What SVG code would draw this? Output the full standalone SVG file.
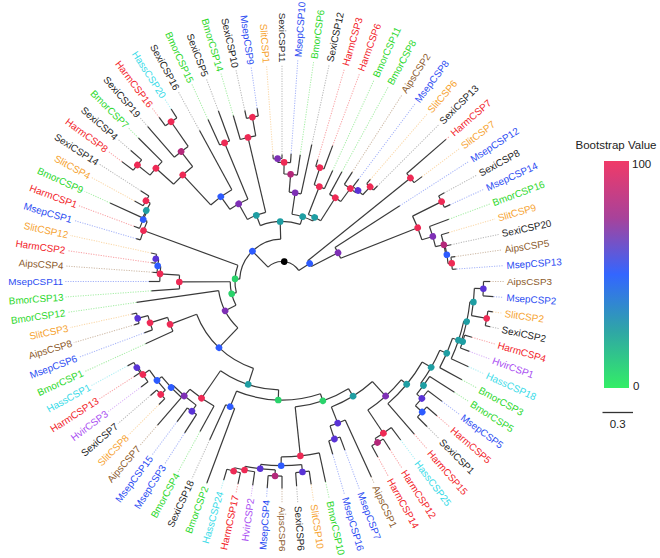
<svg xmlns="http://www.w3.org/2000/svg" width="660" height="558" viewBox="0 0 660 558">
<defs>
<style>
.br line,.br circle{stroke:#3a3a3a;stroke-width:1.2;fill:none}
.lf text{font-family:"Liberation Sans",Arial,sans-serif;font-size:9.9px;dominant-baseline:central}
.lf .e{text-anchor:end}
.lf line{stroke-width:1;stroke-dasharray:1.2 1.3;opacity:.42}
.sexi text{fill:#1e1e1e}.sexi line{stroke:#555}
.msep text{fill:#2b4cf2}.msep line{stroke:#2b4cf2}
.bmor text{fill:#2bd82b}.bmor line{stroke:#2bd82b}
.harm text{fill:#f2232a}.harm line{stroke:#f2232a}
.slit text{fill:#f6a331}.slit line{stroke:#f6a331}
.aips text{fill:#8b5a2b}.aips line{stroke:#8b5a2b}
.hass text{fill:#38dbe8}.hass line{stroke:#38dbe8}
.hvir text{fill:#a94df2}.hvir line{stroke:#a94df2}
.bs circle{r:3.3px}
.r{fill:#ee2a55}.m{fill:#b4287a}.p{fill:#7e2fb5}.v{fill:#5a33d6}.b{fill:#2d5bff}.tl{fill:#1f9ea3}.g{fill:#2ad36b}.k{fill:#000}
.lg{font-family:"Liberation Sans",Arial,sans-serif;font-size:11.5px;fill:#222}
</style>
<linearGradient id="grad" x1="0" y1="0" x2="0" y2="1">
<stop offset="0" stop-color="#f03a68"/>
<stop offset="0.25" stop-color="#a8429a"/>
<stop offset="0.5" stop-color="#3366ff"/>
<stop offset="0.75" stop-color="#2fa6a6"/>
<stop offset="1" stop-color="#33ee66"/>
</linearGradient>
</defs>
<g transform="translate(282 281.5)">
<g id="connectors" class="br">
<circle r="20" pathLength="360" stroke-dasharray="101.25 400" transform="rotate(-134.27)"/>
<line x1="20" x2="42.4" transform="rotate(-134.27)"/><circle r="42.4" pathLength="360" stroke-dasharray="85.03 400" transform="rotate(-176.785)"/>
<line x1="20" x2="33" transform="rotate(-33.02)"/><circle r="33" pathLength="360" stroke-dasharray="11.695 400" transform="rotate(-38.865)"/>
<line x1="33" x2="165" transform="rotate(-38.865)"/><circle r="165" pathLength="360" stroke-dasharray="4.09 400" transform="rotate(-40.91)"/>
<line x1="165" x2="217" transform="rotate(-40.91)"/><line x1="165" x2="175" transform="rotate(-36.82)"/>
<line x1="33" x2="63" transform="rotate(-27.17)"/><circle r="63" pathLength="360" stroke-dasharray="11.125 400" transform="rotate(-32.73)"/>
<line x1="63" x2="140" transform="rotate(-32.73)"/>
<line x1="63" x2="146" transform="rotate(-21.605)"/><circle r="146" pathLength="360" stroke-dasharray="9.98 400" transform="rotate(-26.595)"/>
<line x1="146" x2="178.5" transform="rotate(-26.595)"/><circle r="178.5" pathLength="360" stroke-dasharray="4.09 400" transform="rotate(-28.64)"/>
<line x1="178.5" x2="185" transform="rotate(-28.64)"/><line x1="178.5" x2="185" transform="rotate(-24.55)"/>
<line x1="146" x2="157.4" transform="rotate(-16.615)"/><circle r="157.4" pathLength="360" stroke-dasharray="7.67 400" transform="rotate(-20.45)"/>
<line x1="157.4" x2="178" transform="rotate(-20.45)"/>
<line x1="157.4" x2="166" transform="rotate(-12.78)"/><circle r="166" pathLength="360" stroke-dasharray="7.1575 400" transform="rotate(-16.36)"/>
<line x1="166" x2="174" transform="rotate(-16.36)"/>
<line x1="166" x2="167" transform="rotate(-9.2025)"/><circle r="167" pathLength="360" stroke-dasharray="6.135 400" transform="rotate(-12.27)"/>
<line x1="167" x2="173" transform="rotate(-12.27)"/>
<line x1="167" x2="170.7" transform="rotate(-6.135)"/><circle r="170.7" pathLength="360" stroke-dasharray="4.09 400" transform="rotate(-8.18)"/>
<line x1="170.7" x2="175" transform="rotate(-8.18)"/><line x1="170.7" x2="175" transform="rotate(-4.09)"/>
<line x1="42.4" x2="60" transform="rotate(-91.755)"/><circle r="60" pathLength="360" stroke-dasharray="38.93 400" transform="rotate(-111.22)"/>
<line x1="60" x2="71" transform="rotate(-111.22)"/><circle r="71" pathLength="360" stroke-dasharray="15.86 400" transform="rotate(-119.15)"/>
<line x1="71" x2="148" transform="rotate(-103.29)"/><circle r="148" pathLength="360" stroke-dasharray="6.135 400" transform="rotate(-106.36)"/>
<line x1="148" x2="173" transform="rotate(-106.36)"/>
<line x1="148" x2="167" transform="rotate(-100.225)"/><circle r="167" pathLength="360" stroke-dasharray="4.09 400" transform="rotate(-102.27)"/>
<line x1="167" x2="175" transform="rotate(-102.27)"/><line x1="167" x2="175" transform="rotate(-98.18)"/>
<line x1="71" x2="89" transform="rotate(-119.15)"/><circle r="89" pathLength="360" stroke-dasharray="13.3 400" transform="rotate(-125.8)"/>
<line x1="89" x2="150" transform="rotate(-112.5)"/><circle r="150" pathLength="360" stroke-dasharray="4.1 400" transform="rotate(-114.55)"/>
<line x1="150" x2="178" transform="rotate(-114.55)"/><line x1="150" x2="182" transform="rotate(-110.45)"/>
<line x1="89" x2="104.6" transform="rotate(-125.8)"/><circle r="104.6" pathLength="360" stroke-dasharray="14.315 400" transform="rotate(-132.955)"/>
<line x1="104.6" x2="172" transform="rotate(-118.64)"/>
<line x1="104.6" x2="145.6" transform="rotate(-132.955)"/><circle r="145.6" pathLength="360" stroke-dasharray="10.23 400" transform="rotate(-138.07)"/>
<line x1="145.6" x2="169.5" transform="rotate(-138.07)"/><circle r="169.5" pathLength="360" stroke-dasharray="6.135 400" transform="rotate(-141.135)"/>
<line x1="169.5" x2="203" transform="rotate(-135)"/>
<line x1="169.5" x2="185.7" transform="rotate(-141.135)"/><circle r="185.7" pathLength="360" stroke-dasharray="4.09 400" transform="rotate(-143.18)"/>
<line x1="185.7" x2="200" transform="rotate(-143.18)"/><line x1="185.7" x2="200" transform="rotate(-139.09)"/>
<line x1="145.6" x2="164.5" transform="rotate(-127.84)"/><circle r="164.5" pathLength="360" stroke-dasharray="6.135 400" transform="rotate(-130.91)"/>
<line x1="164.5" x2="205" transform="rotate(-130.91)"/>
<line x1="164.5" x2="194.5" transform="rotate(-124.775)"/><circle r="194.5" pathLength="360" stroke-dasharray="4.09 400" transform="rotate(-126.82)"/>
<line x1="194.5" x2="205" transform="rotate(-126.82)"/><line x1="194.5" x2="205" transform="rotate(-122.73)"/>
<line x1="60" x2="68" transform="rotate(-72.29)"/><circle r="68" pathLength="360" stroke-dasharray="18.545 400" transform="rotate(-81.565)"/>
<line x1="68" x2="89.7" transform="rotate(-81.565)"/><circle r="89.7" pathLength="360" stroke-dasharray="7.67 400" transform="rotate(-85.4)"/>
<line x1="89.7" x2="140" transform="rotate(-77.73)"/>
<line x1="89.7" x2="107.5" transform="rotate(-85.4)"/><circle r="107.5" pathLength="360" stroke-dasharray="7.16 400" transform="rotate(-88.98)"/>
<line x1="107.5" x2="128" transform="rotate(-81.82)"/>
<line x1="107.5" x2="119.2" transform="rotate(-88.98)"/><circle r="119.2" pathLength="360" stroke-dasharray="6.135 400" transform="rotate(-92.045)"/>
<line x1="119.2" x2="128" transform="rotate(-85.91)"/>
<line x1="119.2" x2="123" transform="rotate(-92.045)"/><circle r="123" pathLength="360" stroke-dasharray="4.09 400" transform="rotate(-94.09)"/>
<line x1="123" x2="127" transform="rotate(-94.09)"/><line x1="123" x2="127" transform="rotate(-90)"/>
<line x1="68" x2="72" transform="rotate(-63.02)"/><circle r="72" pathLength="360" stroke-dasharray="10.995 400" transform="rotate(-68.52)"/>
<line x1="72" x2="102" transform="rotate(-68.52)"/><circle r="102" pathLength="360" stroke-dasharray="6.145 400" transform="rotate(-71.595)"/>
<line x1="102" x2="122" transform="rotate(-65.45)"/>
<line x1="102" x2="120" transform="rotate(-71.595)"/><circle r="120" pathLength="360" stroke-dasharray="4.09 400" transform="rotate(-73.64)"/>
<line x1="120" x2="127" transform="rotate(-73.64)"/><line x1="120" x2="145" transform="rotate(-69.55)"/>
<line x1="72" x2="99.3" transform="rotate(-57.525)"/><circle r="99.3" pathLength="360" stroke-dasharray="7.67 400" transform="rotate(-61.36)"/>
<line x1="99.3" x2="125" transform="rotate(-61.36)"/>
<line x1="99.3" x2="115.4" transform="rotate(-53.69)"/><circle r="115.4" pathLength="360" stroke-dasharray="7.16 400" transform="rotate(-57.27)"/>
<line x1="115.4" x2="130" transform="rotate(-57.27)"/>
<line x1="115.4" x2="118.5" transform="rotate(-50.11)"/><circle r="118.5" pathLength="360" stroke-dasharray="6.135 400" transform="rotate(-53.18)"/>
<line x1="118.5" x2="128" transform="rotate(-53.18)"/>
<line x1="118.5" x2="129.4" transform="rotate(-47.045)"/><circle r="129.4" pathLength="360" stroke-dasharray="4.09 400" transform="rotate(-49.09)"/>
<line x1="129.4" x2="135" transform="rotate(-49.09)"/><line x1="129.4" x2="135" transform="rotate(-45)"/>
<line x1="42.4" x2="47" transform="rotate(183.215)"/><circle r="47" pathLength="360" stroke-dasharray="33.97 400" transform="rotate(166.23)"/>
<line x1="47" x2="147.6" transform="rotate(200.2)"/><circle r="147.6" pathLength="360" stroke-dasharray="7.67 400" transform="rotate(196.36)"/>
<line x1="147.6" x2="152" transform="rotate(196.36)"/>
<line x1="147.6" x2="152" transform="rotate(204.03)"/><circle r="152" pathLength="360" stroke-dasharray="7.17 400" transform="rotate(200.45)"/>
<line x1="152" x2="158" transform="rotate(200.45)"/>
<line x1="152" x2="153.2" transform="rotate(207.62)"/><circle r="153.2" pathLength="360" stroke-dasharray="6.135 400" transform="rotate(204.55)"/>
<line x1="153.2" x2="189" transform="rotate(204.55)"/>
<line x1="153.2" x2="158.2" transform="rotate(210.685)"/><circle r="158.2" pathLength="360" stroke-dasharray="4.09 400" transform="rotate(208.64)"/>
<line x1="158.2" x2="168" transform="rotate(208.64)"/><line x1="158.2" x2="168" transform="rotate(212.73)"/>
<line x1="47" x2="51.8" transform="rotate(166.23)"/><circle r="51.8" pathLength="360" stroke-dasharray="27.03 400" transform="rotate(152.715)"/>
<line x1="51.8" x2="102.7" transform="rotate(179.745)"/><circle r="102.7" pathLength="360" stroke-dasharray="7.67 400" transform="rotate(175.91)"/>
<line x1="102.7" x2="131" transform="rotate(175.91)"/>
<line x1="102.7" x2="122.2" transform="rotate(183.58)"/><circle r="122.2" pathLength="360" stroke-dasharray="7.16 400" transform="rotate(180)"/>
<line x1="122.2" x2="133" transform="rotate(180)"/>
<line x1="122.2" x2="125.3" transform="rotate(187.16)"/><circle r="125.3" pathLength="360" stroke-dasharray="6.135 400" transform="rotate(184.09)"/>
<line x1="125.3" x2="130" transform="rotate(184.09)"/>
<line x1="125.3" x2="128.3" transform="rotate(190.225)"/><circle r="128.3" pathLength="360" stroke-dasharray="4.09 400" transform="rotate(188.18)"/>
<line x1="128.3" x2="132" transform="rotate(188.18)"/><line x1="128.3" x2="134" transform="rotate(192.27)"/>
<line x1="51.8" x2="64" transform="rotate(152.715)"/><circle r="64" pathLength="360" stroke-dasharray="38.21 400" transform="rotate(133.61)"/>
<line x1="64" x2="147" transform="rotate(171.82)"/>
<line x1="64" x2="91.4" transform="rotate(133.61)"/><circle r="91.4" pathLength="360" stroke-dasharray="50.84 400" transform="rotate(108.19)"/>
<line x1="91.4" x2="119.9" transform="rotate(159.03)"/><circle r="119.9" pathLength="360" stroke-dasharray="7.17 400" transform="rotate(155.45)"/>
<line x1="119.9" x2="150" transform="rotate(155.45)"/>
<line x1="119.9" x2="138.3" transform="rotate(162.62)"/><circle r="138.3" pathLength="360" stroke-dasharray="6.135 400" transform="rotate(159.55)"/>
<line x1="138.3" x2="147" transform="rotate(159.55)"/>
<line x1="138.3" x2="148.9" transform="rotate(165.685)"/><circle r="148.9" pathLength="360" stroke-dasharray="4.09 400" transform="rotate(163.64)"/>
<line x1="148.9" x2="154" transform="rotate(163.64)"/><line x1="148.9" x2="154" transform="rotate(167.73)"/>
<line x1="91.4" x2="108.4" transform="rotate(108.19)"/><circle r="108.4" pathLength="360" stroke-dasharray="32.785 400" transform="rotate(91.8)"/>
<line x1="108.4" x2="141.8" transform="rotate(124.585)"/><circle r="141.8" pathLength="360" stroke-dasharray="11.89 400" transform="rotate(118.64)"/>
<line x1="141.8" x2="171" transform="rotate(118.64)"/>
<line x1="141.8" x2="150.5" transform="rotate(130.53)"/><circle r="150.5" pathLength="360" stroke-dasharray="11.505 400" transform="rotate(124.775)"/>
<line x1="150.5" x2="158" transform="rotate(124.775)"/><circle r="158" pathLength="360" stroke-dasharray="4.09 400" transform="rotate(122.73)"/>
<line x1="158" x2="180" transform="rotate(122.73)"/><line x1="158" x2="175" transform="rotate(126.82)"/>
<line x1="150.5" x2="153.4" transform="rotate(136.28)"/><circle r="153.4" pathLength="360" stroke-dasharray="10.74 400" transform="rotate(130.91)"/>
<line x1="153.4" x2="190" transform="rotate(130.91)"/>
<line x1="153.4" x2="159.4" transform="rotate(141.65)"/><circle r="159.4" pathLength="360" stroke-dasharray="9.205 400" transform="rotate(137.045)"/>
<line x1="159.4" x2="165.7" transform="rotate(137.045)"/><circle r="165.7" pathLength="360" stroke-dasharray="4.09 400" transform="rotate(135)"/>
<line x1="165.7" x2="174" transform="rotate(135)"/><line x1="165.7" x2="174" transform="rotate(139.09)"/>
<line x1="159.4" x2="167.4" transform="rotate(146.25)"/><circle r="167.4" pathLength="360" stroke-dasharray="6.135 400" transform="rotate(143.18)"/>
<line x1="167.4" x2="176" transform="rotate(143.18)"/>
<line x1="167.4" x2="168.8" transform="rotate(149.315)"/><circle r="168.8" pathLength="360" stroke-dasharray="4.09 400" transform="rotate(147.27)"/>
<line x1="168.8" x2="176" transform="rotate(147.27)"/><line x1="168.8" x2="176" transform="rotate(151.36)"/>
<line x1="108.4" x2="118.6" transform="rotate(91.8)"/><circle r="118.6" pathLength="360" stroke-dasharray="41.4 400" transform="rotate(71.1)"/>
<line x1="118.6" x2="135.5" transform="rotate(112.5)"/><circle r="135.5" pathLength="360" stroke-dasharray="4.1 400" transform="rotate(110.45)"/>
<line x1="135.5" x2="215" transform="rotate(110.45)"/><line x1="135.5" x2="174" transform="rotate(114.55)"/>
<line x1="118.6" x2="126.1" transform="rotate(71.1)"/><circle r="126.1" pathLength="360" stroke-dasharray="25.795 400" transform="rotate(58.2)"/>
<line x1="126.1" x2="175.4" transform="rotate(83.995)"/><circle r="175.4" pathLength="360" stroke-dasharray="12.53 400" transform="rotate(77.73)"/>
<line x1="175.4" x2="205" transform="rotate(77.73)"/>
<line x1="175.4" x2="184.2" transform="rotate(90.26)"/><circle r="184.2" pathLength="360" stroke-dasharray="12.785 400" transform="rotate(83.865)"/>
<line x1="184.2" x2="191.6" transform="rotate(83.865)"/><circle r="191.6" pathLength="360" stroke-dasharray="4.09 400" transform="rotate(81.82)"/>
<line x1="191.6" x2="205" transform="rotate(81.82)"/><line x1="191.6" x2="205" transform="rotate(85.91)"/>
<line x1="184.2" x2="188.5" transform="rotate(96.65)"/><circle r="188.5" pathLength="360" stroke-dasharray="9.205 400" transform="rotate(92.045)"/>
<line x1="188.5" x2="194.6" transform="rotate(92.045)"/><circle r="194.6" pathLength="360" stroke-dasharray="4.09 400" transform="rotate(90)"/>
<line x1="194.6" x2="207" transform="rotate(90)"/><line x1="194.6" x2="207" transform="rotate(94.09)"/>
<line x1="188.5" x2="192.2" transform="rotate(101.25)"/><circle r="192.2" pathLength="360" stroke-dasharray="6.135 400" transform="rotate(98.18)"/>
<line x1="192.2" x2="206" transform="rotate(98.18)"/>
<line x1="192.2" x2="195.7" transform="rotate(104.315)"/><circle r="195.7" pathLength="360" stroke-dasharray="4.09 400" transform="rotate(102.27)"/>
<line x1="195.7" x2="207" transform="rotate(102.27)"/><line x1="195.7" x2="207" transform="rotate(106.36)"/>
<line x1="126.1" x2="134.9" transform="rotate(58.2)"/><circle r="134.9" pathLength="360" stroke-dasharray="20.64 400" transform="rotate(47.88)"/>
<line x1="134.9" x2="152.2" transform="rotate(68.52)"/><circle r="152.2" pathLength="360" stroke-dasharray="6.145 400" transform="rotate(65.45)"/>
<line x1="152.2" x2="215" transform="rotate(65.45)"/>
<line x1="152.2" x2="166" transform="rotate(71.595)"/><circle r="166" pathLength="360" stroke-dasharray="4.09 400" transform="rotate(69.55)"/>
<line x1="166" x2="180" transform="rotate(69.55)"/><line x1="166" x2="180" transform="rotate(73.64)"/>
<line x1="134.9" x2="154.5" transform="rotate(47.88)"/><circle r="154.5" pathLength="360" stroke-dasharray="16.745 400" transform="rotate(39.505)"/>
<line x1="154.5" x2="182.5" transform="rotate(56.25)"/><circle r="182.5" pathLength="360" stroke-dasharray="6.135 400" transform="rotate(53.18)"/>
<line x1="182.5" x2="198" transform="rotate(53.18)"/>
<line x1="182.5" x2="187.2" transform="rotate(59.315)"/><circle r="187.2" pathLength="360" stroke-dasharray="4.09 400" transform="rotate(57.27)"/>
<line x1="187.2" x2="200" transform="rotate(57.27)"/><line x1="187.2" x2="200" transform="rotate(61.36)"/>
<line x1="154.5" x2="161.6" transform="rotate(39.505)"/><circle r="161.6" pathLength="360" stroke-dasharray="19.17 400" transform="rotate(29.92)"/>
<line x1="161.6" x2="202" transform="rotate(49.09)"/>
<line x1="161.6" x2="172.1" transform="rotate(29.92)"/><circle r="172.1" pathLength="360" stroke-dasharray="12.785 400" transform="rotate(23.525)"/>
<line x1="172.1" x2="175.6" transform="rotate(36.31)"/><circle r="175.6" pathLength="360" stroke-dasharray="7.16 400" transform="rotate(32.73)"/>
<line x1="175.6" x2="205" transform="rotate(32.73)"/>
<line x1="175.6" x2="182.3" transform="rotate(39.89)"/><circle r="182.3" pathLength="360" stroke-dasharray="6.135 400" transform="rotate(36.82)"/>
<line x1="182.3" x2="200" transform="rotate(36.82)"/>
<line x1="182.3" x2="191.6" transform="rotate(42.955)"/><circle r="191.6" pathLength="360" stroke-dasharray="4.09 400" transform="rotate(40.91)"/>
<line x1="191.6" x2="205" transform="rotate(40.91)"/><line x1="191.6" x2="205" transform="rotate(45)"/>
<line x1="172.1" x2="179.7" transform="rotate(23.525)"/><circle r="179.7" pathLength="360" stroke-dasharray="10.23 400" transform="rotate(18.41)"/>
<line x1="179.7" x2="205" transform="rotate(28.64)"/>
<line x1="179.7" x2="186" transform="rotate(18.41)"/><circle r="186" pathLength="360" stroke-dasharray="12.28 400" transform="rotate(12.27)"/>
<line x1="186" x2="205" transform="rotate(24.55)"/>
<line x1="186" x2="189" transform="rotate(12.27)"/><circle r="189" pathLength="360" stroke-dasharray="12.27 400" transform="rotate(6.135)"/>
<line x1="189" x2="192.5" transform="rotate(6.135)"/><circle r="192.5" pathLength="360" stroke-dasharray="8.18 400" transform="rotate(2.045)"/>
<line x1="192.5" x2="201.5" transform="rotate(2.045)"/><circle r="201.5" pathLength="360" stroke-dasharray="4.09 400" transform="rotate(0)"/>
<line x1="201.5" x2="208" transform="rotate(0)"/><line x1="201.5" x2="212" transform="rotate(4.09)"/>
<line x1="192.5" x2="208" transform="rotate(10.225)"/><circle r="208" pathLength="360" stroke-dasharray="4.09 400" transform="rotate(8.18)"/>
<line x1="208" x2="213" transform="rotate(8.18)"/><line x1="208" x2="213" transform="rotate(12.27)"/>
<line x1="189" x2="190.4" transform="rotate(18.405)"/><circle r="190.4" pathLength="360" stroke-dasharray="4.09 400" transform="rotate(16.36)"/>
<line x1="190.4" x2="198" transform="rotate(16.36)"/><line x1="190.4" x2="200" transform="rotate(20.45)"/>
</g>
<g id="leaves" class="lf">
<g id="SexiCSP11" class="sexi"><line x1="127" x2="217" transform="rotate(-90)"/><text class="e" transform="rotate(-90) translate(219 0) rotate(180)">SexiCSP11</text></g>
<g id="MsepCSP10" class="msep"><line x1="128" x2="222" transform="rotate(-85.91)"/><text transform="rotate(-85.91) translate(225 0)">MsepCSP10</text></g>
<g id="BmorCSP6" class="bmor"><line x1="128" x2="222" transform="rotate(-81.82)"/><text transform="rotate(-81.82) translate(225 0)">BmorCSP6</text></g>
<g id="SexiCSP12" class="sexi"><line x1="140" x2="222" transform="rotate(-77.73)"/><text transform="rotate(-77.73) translate(225 0)">SexiCSP12</text></g>
<g id="HarmCSP3" class="harm"><line x1="127" x2="222" transform="rotate(-73.64)"/><text transform="rotate(-73.64) translate(225 0)">HarmCSP3</text></g>
<g id="HarmCSP6" class="harm"><line x1="145" x2="222" transform="rotate(-69.55)"/><text transform="rotate(-69.55) translate(225 0)">HarmCSP6</text></g>
<g id="BmorCSP11" class="bmor"><line x1="122" x2="222" transform="rotate(-65.45)"/><text transform="rotate(-65.45) translate(225 0)">BmorCSP11</text></g>
<g id="BmorCSP8" class="bmor"><line x1="125" x2="222" transform="rotate(-61.36)"/><text transform="rotate(-61.36) translate(225 0)">BmorCSP8</text></g>
<g id="AipsCSP2" class="aips"><line x1="130" x2="222" transform="rotate(-57.27)"/><text transform="rotate(-57.27) translate(225 0)">AipsCSP2</text></g>
<g id="MsepCSP8" class="msep"><line x1="128" x2="222" transform="rotate(-53.18)"/><text transform="rotate(-53.18) translate(225 0)">MsepCSP8</text></g>
<g id="SlitCSP6" class="slit"><line x1="135" x2="222" transform="rotate(-49.09)"/><text transform="rotate(-49.09) translate(225 0)">SlitCSP6</text></g>
<g id="SexiCSP13" class="sexi"><line x1="135" x2="222" transform="rotate(-45)"/><text transform="rotate(-45) translate(225 0)">SexiCSP13</text></g>
<g id="HarmCSP7" class="harm"><line x1="217" x2="222" transform="rotate(-40.91)"/><text transform="rotate(-40.91) translate(225 0)">HarmCSP7</text></g>
<g id="SlitCSP7" class="slit"><line x1="175" x2="222" transform="rotate(-36.82)"/><text transform="rotate(-36.82) translate(225 0)">SlitCSP7</text></g>
<g id="MsepCSP12" class="msep"><line x1="140" x2="222" transform="rotate(-32.73)"/><text transform="rotate(-32.73) translate(225 0)">MsepCSP12</text></g>
<g id="SexiCSP8" class="sexi"><line x1="185" x2="222" transform="rotate(-28.64)"/><text transform="rotate(-28.64) translate(225 0)">SexiCSP8</text></g>
<g id="MsepCSP14" class="msep"><line x1="185" x2="222" transform="rotate(-24.55)"/><text transform="rotate(-24.55) translate(225 0)">MsepCSP14</text></g>
<g id="BmorCSP16" class="bmor"><line x1="178" x2="222" transform="rotate(-20.45)"/><text transform="rotate(-20.45) translate(225 0)">BmorCSP16</text></g>
<g id="SlitCSP9" class="slit"><line x1="174" x2="222" transform="rotate(-16.36)"/><text transform="rotate(-16.36) translate(225 0)">SlitCSP9</text></g>
<g id="SexiCSP20" class="sexi"><line x1="173" x2="222" transform="rotate(-12.27)"/><text transform="rotate(-12.27) translate(225 0)">SexiCSP20</text></g>
<g id="AipsCSP5" class="aips"><line x1="175" x2="222" transform="rotate(-8.18)"/><text transform="rotate(-8.18) translate(225 0)">AipsCSP5</text></g>
<g id="MsepCSP13" class="msep"><line x1="175" x2="222" transform="rotate(-4.09)"/><text transform="rotate(-4.09) translate(225 0)">MsepCSP13</text></g>
<g id="AipsCSP3" class="aips"><line x1="208" x2="222" transform="rotate(0)"/><text transform="rotate(0) translate(225 0)">AipsCSP3</text></g>
<g id="MsepCSP2" class="msep"><line x1="212" x2="222" transform="rotate(4.09)"/><text transform="rotate(4.09) translate(225 0)">MsepCSP2</text></g>
<g id="SlitCSP2" class="slit"><line x1="213" x2="222" transform="rotate(8.18)"/><text transform="rotate(8.18) translate(225 0)">SlitCSP2</text></g>
<g id="SexiCSP2" class="sexi"><line x1="213" x2="222" transform="rotate(12.27)"/><text transform="rotate(12.27) translate(225 0)">SexiCSP2</text></g>
<g id="HarmCSP4" class="harm"><line x1="198" x2="222" transform="rotate(16.36)"/><text transform="rotate(16.36) translate(225 0)">HarmCSP4</text></g>
<g id="HvirCSP1" class="hvir"><line x1="200" x2="222" transform="rotate(20.45)"/><text transform="rotate(20.45) translate(225 0)">HvirCSP1</text></g>
<g id="HassCSP18" class="hass"><line x1="205" x2="222" transform="rotate(24.55)"/><text transform="rotate(24.55) translate(225 0)">HassCSP18</text></g>
<g id="BmorCSP3" class="bmor"><line x1="205" x2="222" transform="rotate(28.64)"/><text transform="rotate(28.64) translate(225 0)">BmorCSP3</text></g>
<g id="BmorCSP5" class="bmor"><line x1="205" x2="222" transform="rotate(32.73)"/><text transform="rotate(32.73) translate(225 0)">BmorCSP5</text></g>
<g id="MsepCSP5" class="msep"><line x1="200" x2="222" transform="rotate(36.82)"/><text transform="rotate(36.82) translate(225 0)">MsepCSP5</text></g>
<g id="HarmCSP5" class="harm"><line x1="205" x2="222" transform="rotate(40.91)"/><text transform="rotate(40.91) translate(225 0)">HarmCSP5</text></g>
<g id="SexiCSP1" class="sexi"><line x1="205" x2="222" transform="rotate(45)"/><text transform="rotate(45) translate(225 0)">SexiCSP1</text></g>
<g id="HarmCSP15" class="harm"><line x1="202" x2="222" transform="rotate(49.09)"/><text transform="rotate(49.09) translate(225 0)">HarmCSP15</text></g>
<g id="HassCSP25" class="hass"><line x1="198" x2="222" transform="rotate(53.18)"/><text transform="rotate(53.18) translate(225 0)">HassCSP25</text></g>
<g id="HarmCSP12" class="harm"><line x1="200" x2="222" transform="rotate(57.27)"/><text transform="rotate(57.27) translate(225 0)">HarmCSP12</text></g>
<g id="HarmCSP14" class="harm"><line x1="200" x2="222" transform="rotate(61.36)"/><text transform="rotate(61.36) translate(225 0)">HarmCSP14</text></g>
<g id="AipsCSP1" class="aips"><line x1="215" x2="222" transform="rotate(65.45)"/><text transform="rotate(65.45) translate(225 0)">AipsCSP1</text></g>
<g id="MsepCSP7" class="msep"><line x1="180" x2="222" transform="rotate(69.55)"/><text transform="rotate(69.55) translate(225 0)">MsepCSP7</text></g>
<g id="MsepCSP16" class="msep"><line x1="180" x2="222" transform="rotate(73.64)"/><text transform="rotate(73.64) translate(225 0)">MsepCSP16</text></g>
<g id="BmorCSP10" class="bmor"><line x1="205" x2="222" transform="rotate(77.73)"/><text transform="rotate(77.73) translate(225 0)">BmorCSP10</text></g>
<g id="SlitCSP10" class="slit"><line x1="205" x2="222" transform="rotate(81.82)"/><text transform="rotate(81.82) translate(225 0)">SlitCSP10</text></g>
<g id="SexiCSP6" class="sexi"><line x1="205" x2="222" transform="rotate(85.91)"/><text transform="rotate(85.91) translate(225 0)">SexiCSP6</text></g>
<g id="AipsCSP6" class="aips"><line x1="207" x2="222" transform="rotate(90)"/><text transform="rotate(90) translate(225 0)">AipsCSP6</text></g>
<g id="MsepCSP4" class="msep"><line x1="207" x2="217" transform="rotate(94.09)"/><text class="e" transform="rotate(94.09) translate(219 0) rotate(180)">MsepCSP4</text></g>
<g id="HvirCSP2" class="hvir"><line x1="206" x2="217" transform="rotate(98.18)"/><text class="e" transform="rotate(98.18) translate(219 0) rotate(180)">HvirCSP2</text></g>
<g id="HarmCSP17" class="harm"><line x1="207" x2="217" transform="rotate(102.27)"/><text class="e" transform="rotate(102.27) translate(219 0) rotate(180)">HarmCSP17</text></g>
<g id="HassCSP24" class="hass"><line x1="207" x2="217" transform="rotate(106.36)"/><text class="e" transform="rotate(106.36) translate(219 0) rotate(180)">HassCSP24</text></g>
<g id="BmorCSP2" class="bmor"><line x1="215" x2="217" transform="rotate(110.45)"/><text class="e" transform="rotate(110.45) translate(219 0) rotate(180)">BmorCSP2</text></g>
<g id="SexiCSP18" class="sexi"><line x1="174" x2="217" transform="rotate(114.55)"/><text class="e" transform="rotate(114.55) translate(219 0) rotate(180)">SexiCSP18</text></g>
<g id="BmorCSP4" class="bmor"><line x1="171" x2="217" transform="rotate(118.64)"/><text class="e" transform="rotate(118.64) translate(219 0) rotate(180)">BmorCSP4</text></g>
<g id="MsepCSP3" class="msep"><line x1="180" x2="217" transform="rotate(122.73)"/><text class="e" transform="rotate(122.73) translate(219 0) rotate(180)">MsepCSP3</text></g>
<g id="MsepCSP15" class="msep"><line x1="175" x2="217" transform="rotate(126.82)"/><text class="e" transform="rotate(126.82) translate(219 0) rotate(180)">MsepCSP15</text></g>
<g id="AipsCSP7" class="aips"><line x1="190" x2="217" transform="rotate(130.91)"/><text class="e" transform="rotate(130.91) translate(219 0) rotate(180)">AipsCSP7</text></g>
<g id="SlitCSP8" class="slit"><line x1="174" x2="217" transform="rotate(135)"/><text class="e" transform="rotate(135) translate(219 0) rotate(180)">SlitCSP8</text></g>
<g id="SexiCSP7" class="sexi"><line x1="174" x2="217" transform="rotate(139.09)"/><text class="e" transform="rotate(139.09) translate(219 0) rotate(180)">SexiCSP7</text></g>
<g id="HvirCSP3" class="hvir"><line x1="176" x2="217" transform="rotate(143.18)"/><text class="e" transform="rotate(143.18) translate(219 0) rotate(180)">HvirCSP3</text></g>
<g id="HarmCSP13" class="harm"><line x1="176" x2="217" transform="rotate(147.27)"/><text class="e" transform="rotate(147.27) translate(219 0) rotate(180)">HarmCSP13</text></g>
<g id="HassCSP1" class="hass"><line x1="176" x2="217" transform="rotate(151.36)"/><text class="e" transform="rotate(151.36) translate(219 0) rotate(180)">HassCSP1</text></g>
<g id="BmorCSP1" class="bmor"><line x1="150" x2="217" transform="rotate(155.45)"/><text class="e" transform="rotate(155.45) translate(219 0) rotate(180)">BmorCSP1</text></g>
<g id="MsepCSP6" class="msep"><line x1="147" x2="217" transform="rotate(159.55)"/><text class="e" transform="rotate(159.55) translate(219 0) rotate(180)">MsepCSP6</text></g>
<g id="AipsCSP8" class="aips"><line x1="154" x2="217" transform="rotate(163.64)"/><text class="e" transform="rotate(163.64) translate(219 0) rotate(180)">AipsCSP8</text></g>
<g id="SlitCSP3" class="slit"><line x1="154" x2="217" transform="rotate(167.73)"/><text class="e" transform="rotate(167.73) translate(219 0) rotate(180)">SlitCSP3</text></g>
<g id="BmorCSP12" class="bmor"><line x1="147" x2="217" transform="rotate(171.82)"/><text class="e" transform="rotate(171.82) translate(219 0) rotate(180)">BmorCSP12</text></g>
<g id="BmorCSP13" class="bmor"><line x1="131" x2="217" transform="rotate(175.91)"/><text class="e" transform="rotate(175.91) translate(219 0) rotate(180)">BmorCSP13</text></g>
<g id="MsepCSP11" class="msep"><line x1="133" x2="217" transform="rotate(180)"/><text class="e" transform="rotate(180) translate(219 0) rotate(180)">MsepCSP11</text></g>
<g id="AipsCSP4" class="aips"><line x1="130" x2="217" transform="rotate(184.09)"/><text class="e" transform="rotate(184.09) translate(219 0) rotate(180)">AipsCSP4</text></g>
<g id="HarmCSP2" class="harm"><line x1="132" x2="217" transform="rotate(188.18)"/><text class="e" transform="rotate(188.18) translate(219 0) rotate(180)">HarmCSP2</text></g>
<g id="SlitCSP12" class="slit"><line x1="134" x2="217" transform="rotate(192.27)"/><text class="e" transform="rotate(192.27) translate(219 0) rotate(180)">SlitCSP12</text></g>
<g id="MsepCSP1" class="msep"><line x1="152" x2="217" transform="rotate(196.36)"/><text class="e" transform="rotate(196.36) translate(219 0) rotate(180)">MsepCSP1</text></g>
<g id="HarmCSP1" class="harm"><line x1="158" x2="217" transform="rotate(200.45)"/><text class="e" transform="rotate(200.45) translate(219 0) rotate(180)">HarmCSP1</text></g>
<g id="BmorCSP9" class="bmor"><line x1="189" x2="217" transform="rotate(204.55)"/><text class="e" transform="rotate(204.55) translate(219 0) rotate(180)">BmorCSP9</text></g>
<g id="SlitCSP4" class="slit"><line x1="168" x2="217" transform="rotate(208.64)"/><text class="e" transform="rotate(208.64) translate(219 0) rotate(180)">SlitCSP4</text></g>
<g id="SexiCSP14" class="sexi"><line x1="168" x2="217" transform="rotate(212.73)"/><text class="e" transform="rotate(212.73) translate(219 0) rotate(180)">SexiCSP14</text></g>
<g id="HarmCSP8" class="harm"><line x1="200" x2="217" transform="rotate(216.82)"/><text class="e" transform="rotate(216.82) translate(219 0) rotate(180)">HarmCSP8</text></g>
<g id="SexiCSP4" class="sexi"><line x1="200" x2="217" transform="rotate(220.91)"/><text class="e" transform="rotate(220.91) translate(219 0) rotate(180)">SexiCSP4</text></g>
<g id="BmorCSP7" class="bmor"><line x1="203" x2="217" transform="rotate(225)"/><text class="e" transform="rotate(225) translate(219 0) rotate(180)">BmorCSP7</text></g>
<g id="SexiCSP19" class="sexi"><line x1="205" x2="217" transform="rotate(229.09)"/><text class="e" transform="rotate(229.09) translate(219 0) rotate(180)">SexiCSP19</text></g>
<g id="HarmCSP16" class="harm"><line x1="205" x2="217" transform="rotate(233.18)"/><text class="e" transform="rotate(233.18) translate(219 0) rotate(180)">HarmCSP16</text></g>
<g id="HassCSP20" class="hass"><line x1="205" x2="217" transform="rotate(237.27)"/><text class="e" transform="rotate(237.27) translate(219 0) rotate(180)">HassCSP20</text></g>
<g id="SexiCSP16" class="sexi"><line x1="172" x2="217" transform="rotate(241.36)"/><text class="e" transform="rotate(241.36) translate(219 0) rotate(180)">SexiCSP16</text></g>
<g id="BmorCSP15" class="bmor"><line x1="178" x2="217" transform="rotate(245.45)"/><text class="e" transform="rotate(245.45) translate(219 0) rotate(180)">BmorCSP15</text></g>
<g id="SexiCSP5" class="sexi"><line x1="182" x2="217" transform="rotate(249.55)"/><text class="e" transform="rotate(249.55) translate(219 0) rotate(180)">SexiCSP5</text></g>
<g id="BmorCSP14" class="bmor"><line x1="173" x2="217" transform="rotate(253.64)"/><text class="e" transform="rotate(253.64) translate(219 0) rotate(180)">BmorCSP14</text></g>
<g id="SexiCSP10" class="sexi"><line x1="175" x2="217" transform="rotate(257.73)"/><text class="e" transform="rotate(257.73) translate(219 0) rotate(180)">SexiCSP10</text></g>
<g id="MsepCSP9" class="msep"><line x1="175" x2="217" transform="rotate(261.82)"/><text class="e" transform="rotate(261.82) translate(219 0) rotate(180)">MsepCSP9</text></g>
<g id="SlitCSP1" class="slit"><line x1="127" x2="217" transform="rotate(265.91)"/><text class="e" transform="rotate(265.91) translate(219 0) rotate(180)">SlitCSP1</text></g>
</g>
<g id="bootstrap" class="bs">
<circle class="k" cx="20" transform="rotate(-83.645)"/>
<circle class="b" cx="42.4" transform="rotate(-134.27)"/>
<circle class="b" cx="33" transform="rotate(-33.02)"/>
<circle class="r" cx="165" transform="rotate(-38.865)"/>
<circle class="p" cx="63" transform="rotate(-27.17)"/>
<circle class="r" cx="146" transform="rotate(-21.605)"/>
<circle class="r" cx="178.5" transform="rotate(-26.595)"/>
<circle class="p" cx="157.4" transform="rotate(-16.615)"/>
<circle class="m" cx="166" transform="rotate(-12.78)"/>
<circle class="b" cx="167" transform="rotate(-9.2025)"/>
<circle class="r" cx="170.7" transform="rotate(-6.135)"/>
<circle class="tl" cx="60" transform="rotate(-91.755)"/>
<circle class="tl" cx="71" transform="rotate(-111.22)"/>
<circle class="r" cx="148" transform="rotate(-103.29)"/>
<circle class="r" cx="167" transform="rotate(-100.225)"/>
<circle class="p" cx="89" transform="rotate(-119.15)"/>
<circle class="r" cx="150" transform="rotate(-112.5)"/>
<circle class="b" cx="104.6" transform="rotate(-125.8)"/>
<circle class="r" cx="145.6" transform="rotate(-132.955)"/>
<circle class="r" cx="169.5" transform="rotate(-138.07)"/>
<circle class="r" cx="185.7" transform="rotate(-141.135)"/>
<circle class="m" cx="164.5" transform="rotate(-127.84)"/>
<circle class="r" cx="194.5" transform="rotate(-124.775)"/>
<circle class="tl" cx="68" transform="rotate(-72.29)"/>
<circle class="p" cx="89.7" transform="rotate(-81.565)"/>
<circle class="m" cx="107.5" transform="rotate(-85.4)"/>
<circle class="r" cx="119.2" transform="rotate(-88.98)"/>
<circle class="p" cx="123" transform="rotate(-92.045)"/>
<circle class="tl" cx="72" transform="rotate(-63.02)"/>
<circle class="r" cx="102" transform="rotate(-68.52)"/>
<circle class="r" cx="120" transform="rotate(-71.595)"/>
<circle class="r" cx="99.3" transform="rotate(-57.525)"/>
<circle class="r" cx="115.4" transform="rotate(-53.69)"/>
<circle class="v" cx="118.5" transform="rotate(-50.11)"/>
<circle class="r" cx="129.4" transform="rotate(-47.045)"/>
<circle class="g" cx="47" transform="rotate(183.215)"/>
<circle class="r" cx="147.6" transform="rotate(200.2)"/>
<circle class="b" cx="152" transform="rotate(204.03)"/>
<circle class="tl" cx="153.2" transform="rotate(207.62)"/>
<circle class="r" cx="158.2" transform="rotate(210.685)"/>
<circle class="g" cx="51.8" transform="rotate(166.23)"/>
<circle class="r" cx="102.7" transform="rotate(179.745)"/>
<circle class="r" cx="122.2" transform="rotate(183.58)"/>
<circle class="b" cx="125.3" transform="rotate(187.16)"/>
<circle class="v" cx="128.3" transform="rotate(190.225)"/>
<circle class="p" cx="64" transform="rotate(152.715)"/>
<circle class="b" cx="91.4" transform="rotate(133.61)"/>
<circle class="r" cx="119.9" transform="rotate(159.03)"/>
<circle class="r" cx="138.3" transform="rotate(162.62)"/>
<circle class="v" cx="148.9" transform="rotate(165.685)"/>
<circle class="tl" cx="108.4" transform="rotate(108.19)"/>
<circle class="r" cx="141.8" transform="rotate(124.585)"/>
<circle class="p" cx="150.5" transform="rotate(130.53)"/>
<circle class="v" cx="158" transform="rotate(124.775)"/>
<circle class="b" cx="153.4" transform="rotate(136.28)"/>
<circle class="b" cx="159.4" transform="rotate(141.65)"/>
<circle class="r" cx="165.7" transform="rotate(137.045)"/>
<circle class="r" cx="167.4" transform="rotate(146.25)"/>
<circle class="v" cx="168.8" transform="rotate(149.315)"/>
<circle class="g" cx="118.6" transform="rotate(91.8)"/>
<circle class="b" cx="135.5" transform="rotate(112.5)"/>
<circle class="g" cx="126.1" transform="rotate(71.1)"/>
<circle class="r" cx="175.4" transform="rotate(83.995)"/>
<circle class="b" cx="184.2" transform="rotate(90.26)"/>
<circle class="v" cx="191.6" transform="rotate(83.865)"/>
<circle class="v" cx="188.5" transform="rotate(96.65)"/>
<circle class="m" cx="194.6" transform="rotate(92.045)"/>
<circle class="r" cx="192.2" transform="rotate(101.25)"/>
<circle class="r" cx="195.7" transform="rotate(104.315)"/>
<circle class="tl" cx="134.9" transform="rotate(58.2)"/>
<circle class="v" cx="152.2" transform="rotate(68.52)"/>
<circle class="v" cx="166" transform="rotate(71.595)"/>
<circle class="p" cx="154.5" transform="rotate(47.88)"/>
<circle class="r" cx="182.5" transform="rotate(56.25)"/>
<circle class="m" cx="187.2" transform="rotate(59.315)"/>
<circle class="tl" cx="161.6" transform="rotate(39.505)"/>
<circle class="tl" cx="172.1" transform="rotate(29.92)"/>
<circle class="tl" cx="175.6" transform="rotate(36.31)"/>
<circle class="v" cx="182.3" transform="rotate(39.89)"/>
<circle class="b" cx="191.6" transform="rotate(42.955)"/>
<circle class="tl" cx="179.7" transform="rotate(23.525)"/>
<circle class="tl" cx="186" transform="rotate(18.41)"/>
<circle class="tl" cx="189" transform="rotate(12.27)"/>
<circle class="tl" cx="192.5" transform="rotate(6.135)"/>
<circle class="v" cx="201.5" transform="rotate(2.045)"/>
<circle class="r" cx="208" transform="rotate(10.225)"/>
<circle class="tl" cx="190.4" transform="rotate(18.405)"/>
</g>
</g>
<g id="legend">
<text class="lg" x="575.5" y="148.5">Bootstrap Value</text>
<rect x="604" y="161" width="25" height="227" fill="url(#grad)"/>
<text class="lg" x="632" y="168">100</text>
<text class="lg" x="633" y="389.5">0</text>
<line x1="602.5" y1="412.5" x2="633" y2="412.5" stroke="#333" stroke-width="1.3"/>
<text class="lg" x="617.7" y="428" text-anchor="middle">0.3</text>
</g>
</svg>
